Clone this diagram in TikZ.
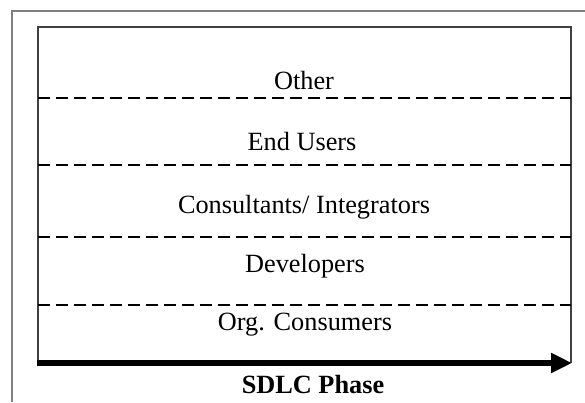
\documentclass[tikz,border=0pt]{standalone}
\usepackage{fontspec}
\setmainfont{Liberation Serif}
\usetikzlibrary{arrows.meta}
\begin{document}
\begin{tikzpicture}[x=1pt,y=-1pt,
  lbl/.style={anchor=base,inner sep=0pt,font=\fontsize{26.3}{30}\selectfont},
  sep/.style={line width=1.5pt,dash pattern=on 12pt off 6pt},
  frame/.style={draw=black!50,line width=2pt},
  box/.style={draw=black!75,line width=1.5pt}]
\useasboundingbox (0,0) rectangle (585,402);
\fill[white] (0,0) rectangle (585,402);
% outer frame (right and bottom cut off)
\draw[frame] (12,402) -- (12,11) -- (585,11);
% inner box
\draw[box] (38,363) -- (38,27) -- (571,27) -- (571,363);
% separators
\draw[sep] (38,98) -- (571,98);
\draw[sep] (38,165) -- (571,165);
\draw[sep] (38,237) -- (571,237);
\draw[sep] (38,305) -- (571,305);
% labels
\node[lbl] (other) at (304,89) {Other};
\node[lbl] (end) at (302,150) {End Users};
\node[lbl] (cons) at (304,213) {Consultants/ Integrators};
\node[lbl] (dev) at (305,272) {Developers};
\node[lbl] (org) at (305,330) {Org. Consumers};
\node[lbl,font=\fontsize{26.3}{30}\selectfont\bfseries] (sdlc) at (313,393) {SDLC Phase};
% arrow
\coordinate (a0) at (37,363);
\coordinate (a1) at (572,363);
\draw[line width=6pt,-{Triangle[length=21pt,width=19pt]}] (a0) -- (a1);
\end{tikzpicture}
\end{document}
